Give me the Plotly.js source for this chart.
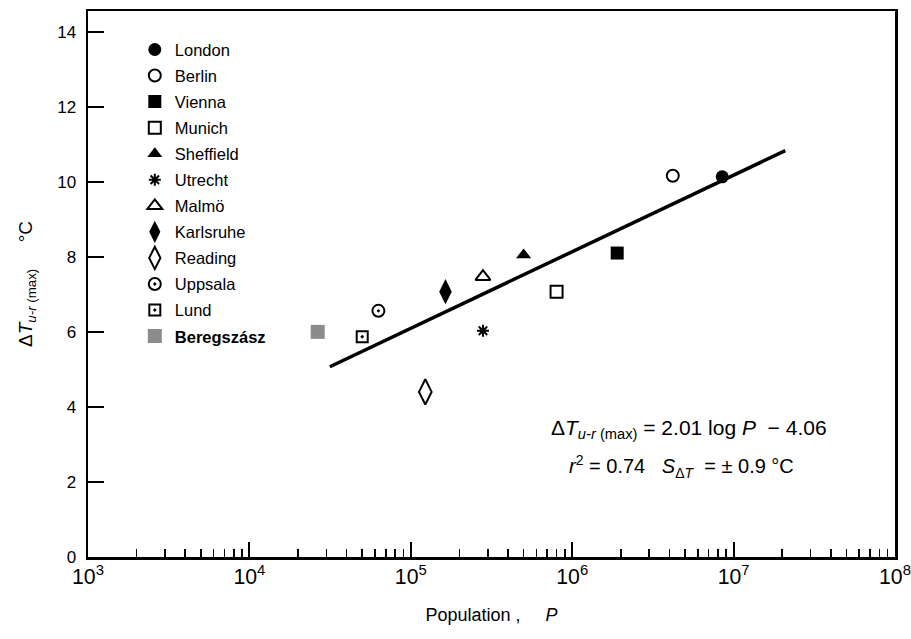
<!DOCTYPE html>
<html>
<head>
<meta charset="utf-8">
<script src="https://cdn.plot.ly/plotly-3.0.1.min.js"></script>
<style>html,body{margin:0;padding:0;background:#fff;}#chart{width:911px;height:639px;}</style>
</head>
<body>
<div id="chart"></div>
<script>
// City data
const cities = ['London','Berlin','Vienna','Munich','Sheffield','Utrecht','Malmö','Karlsruhe','Reading','Uppsala','Lund','<b>Beregszász</b>'];
const population = [8.5e6, 4.2e6, 1.9e6, 8.0e5, 5.0e5, 2.8e5, 2.8e5, 1.64e5, 1.23e5, 6.3e4, 5.0e4, 2.65e4];
const deltaT = [10.13, 10.16, 8.1, 7.07, 8.05, 6.03, 7.47, 7.07, 4.4, 6.56, 5.87, 6.0];
const symbols = ['circle','circle-open','square','square-open','triangle-up','asterisk-open','triangle-up-open','diamond-tall','diamond-tall-open','circle-open-dot','square-open-dot','square'];
const colors = ['#000','#000','#000','#000','#000','#000','#000','#000','#000','#000','#000','#8c8c8c'];
const sizes = [13, 12, 13, 12, 13, 10, 13, 18, 18, 12, 11, 14];

// Regression line end points
const lineP = [3.15e4, 2.09e7];
const lineT = [5.07, 10.83];

const traces = cities.map((c, i) => ({
  type: 'scatter', mode: 'markers', name: c,
  x: [population[i]], y: [deltaT[i]],
  legendgroup: 'g' + i,
  marker: {
    symbol: symbols[i], size: sizes[i], color: colors[i],
    line: {color: colors[i], width: symbols[i].includes('open') ? 2 : 0}
  }
}));
traces.push({
  type: 'scatter', mode: 'lines', x: lineP, y: lineT, showlegend: false,
  line: {color: '#000', width: 3.5}
});

const font = {family: 'Liberation Sans, Arial, sans-serif', color: '#000'};
const layout = {
  width: 911, height: 639,
  margin: {l: 88, r: 16, t: 11, b: 82},
  paper_bgcolor: '#fff', plot_bgcolor: '#fff',
  font: Object.assign({size: 16}, font),
  showlegend: true,
  legend: {
    x: 0.058, y: 0.961, xanchor: 'left', yanchor: 'top',
    font: Object.assign({size: 16.5}, font),
    tracegroupgap: 1.6, bgcolor: 'rgba(0,0,0,0)', itemwidth: 30
  },
  xaxis: {
    type: 'log', range: [3, 8], dtick: 1, exponentformat: 'power',
    ticks: 'inside', ticklen: 15, tickwidth: 2, tickcolor: '#000',
    minor: {ticks: 'inside', ticklen: 8, tickwidth: 1.5, tickcolor: '#000', dtick: 'D1', showgrid: false},
    showline: true, linewidth: 2.5, linecolor: '#000', mirror: true,
    showgrid: false, zeroline: false,
    tickfont: Object.assign({size: 17}, font),
    title: {text: 'Population ,     <i>P</i>', font: Object.assign({size: 18}, font), standoff: 20}
  },
  yaxis: {
    range: [0, 14.55], dtick: 2, tick0: 0,
    ticks: 'inside', ticklen: 16, tickwidth: 2, tickcolor: '#000',
    showline: true, linewidth: 2.5, linecolor: '#000', mirror: true,
    showgrid: false, zeroline: false,
    tickfont: Object.assign({size: 17}, font),
    ticklabelstandoff: 6,
    title: {text: 'Δ<i>T</i><sub><i>u-r</i> (max)</sub>     °C', font: Object.assign({size: 19}, font), standoff: 20}
  },
  annotations: [
    {xref: 'paper', yref: 'paper', x: 0.745, y: 0.235, xanchor: 'center', yanchor: 'middle', showarrow: false,
     text: 'Δ<i>T</i><sub><i>u-r</i> (max)</sub> = 2.01 log <i>P</i>  − 4.06', font: Object.assign({size: 21}, font)},
    {xref: 'paper', yref: 'paper', x: 0.735, y: 0.166, xanchor: 'center', yanchor: 'middle', showarrow: false,
     text: '<i>r</i><sup>2</sup> = 0.74   <i>S</i><sub>Δ<i>T</i></sub>  = ± 0.9 °C', font: Object.assign({size: 20}, font)}
  ]
};

Plotly.newPlot('chart', traces, layout, {staticPlot: true, displayModeBar: false});
</script>
</body>
</html>
